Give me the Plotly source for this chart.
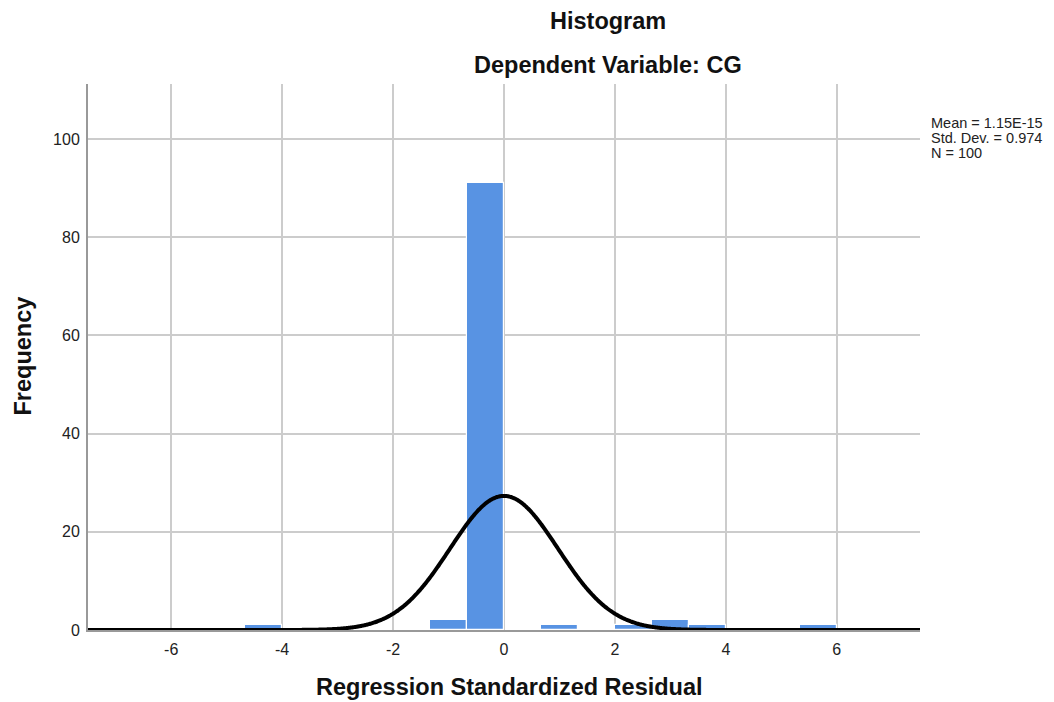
import numpy as np
import plotly.graph_objects as go

# Histogram data (bin edges in standardized residual units, width 2/3)
bin_left = [-4.6667, -1.3333, -0.6667, 0.6667, 2.0, 2.6667, 3.3333, 5.3333]
bin_width = 2.0 / 3.0
freq = [1, 2, 91, 1, 1, 2, 1, 1]

mean_val = 1.15e-15
std_val = 0.974
n_val = 100

x_ticks = [-6, -4, -2, 0, 2, 4, 6]
y_ticks = [0, 20, 40, 60, 80, 100]

stats_lines = ["Mean = 1.15E-15", f"Std. Dev. = {std_val:.3f}", f"N = {n_val}"]

centers = [b + bin_width / 2 for b in bin_left]

# Normal curve overlay scaled to counts
xc = np.linspace(-7.5, 7.5, 1201)
yc = n_val * bin_width / (std_val * np.sqrt(2 * np.pi)) * np.exp(-0.5 * ((xc - mean_val) / std_val) ** 2)

fig = go.Figure()
fig.add_trace(go.Bar(
    x=centers, y=freq, width=[bin_width] * len(freq),
    marker=dict(color="#5893e3", line=dict(color="white", width=1.2)),
    showlegend=False, hoverinfo="x+y",
))
fig.add_trace(go.Scatter(
    x=xc, y=yc, mode="lines", line=dict(color="black", width=4, simplify=False),
    showlegend=False, hoverinfo="skip",
))

annotations = [
    dict(text="<b>Histogram</b>", x=0.625, y=1.1154, xref="paper", yref="paper",
         xanchor="center", yanchor="middle", showarrow=False,
         font=dict(size=23.5, color="#111111")),
    dict(text="<b>Dependent Variable: CG</b>", x=0.625, y=1.0339, xref="paper", yref="paper",
         xanchor="center", yanchor="middle", showarrow=False,
         font=dict(size=23.5, color="#111111")),
    dict(text="<b>Regression Standardized Residual</b>", x=0.507, y=-0.1044, xref="paper", yref="paper",
         xanchor="center", yanchor="middle", showarrow=False,
         font=dict(size=23.5, color="#111111")),
    dict(text="<b>Frequency</b>", x=-0.0787, y=0.5018, xref="paper", yref="paper",
         xanchor="center", yanchor="middle", showarrow=False, textangle=-90,
         font=dict(size=23.5, color="#111111")),
]
for line, yy in zip(stats_lines, [0.9286, 0.9011, 0.8736]):
    annotations.append(dict(text=line, x=1.0115, y=yy, xref="paper", yref="paper",
                            xanchor="left", yanchor="middle", align="left", showarrow=False,
                            borderpad=0, font=dict(size=14.5, color="#222222")))

fig.update_layout(
    width=1054, height=702,
    margin=dict(l=88, r=134, t=84, b=72),
    paper_bgcolor="white", plot_bgcolor="white",
    font=dict(family="Liberation Sans, Arial, sans-serif", color="#222222", size=16),
    bargap=0,
    xaxis=dict(
        range=[-7.5, 7.5], tickvals=x_ticks, ticktext=[str(t) for t in x_ticks],
        showgrid=True, gridcolor="#cccccc", gridwidth=1.5,
        zeroline=False, showline=True, linecolor="#999999", linewidth=2,
        ticks="", tickfont=dict(size=16, color="#222222"), ticklabelstandoff=4,
    ),
    yaxis=dict(
        range=[0, 111.2], tickvals=y_ticks, ticktext=[str(t) for t in y_ticks],
        showgrid=True, gridcolor="#cccccc", gridwidth=1.5,
        zeroline=False, showline=True, linecolor="#999999", linewidth=2,
        ticks="", tickfont=dict(size=16, color="#222222"), ticklabelstandoff=3,
    ),
    annotations=annotations,
)

fig.write_html("out.html")
